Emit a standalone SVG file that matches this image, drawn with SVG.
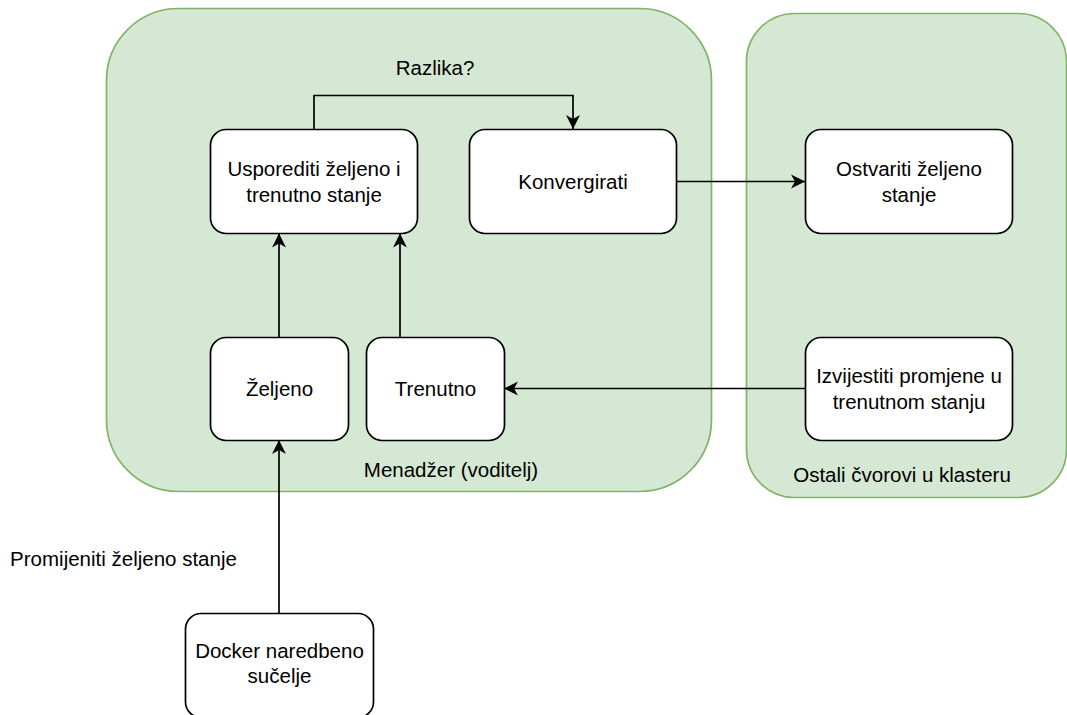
<svg xmlns="http://www.w3.org/2000/svg" width="1067" height="715" viewBox="0 0 1067 715">
  <style>
    .container { fill: #d5e8d4; stroke: #82b366; stroke-width: 1.7; }
    .box { fill: #ffffff; stroke: #000000; stroke-width: 1.7; }
    .edge { fill: none; stroke: #000000; stroke-width: 1.7; }
    text { font-family: "Liberation Sans", Helvetica, Arial, sans-serif; font-size: 20.5px; fill: #000000; text-anchor: middle; }
  </style>
  <defs>
    <marker id="arrow" markerUnits="userSpaceOnUse" viewBox="-15 -8 16 16" refX="0" refY="0" markerWidth="16" markerHeight="16" orient="auto">
      <path d="M0 0 L-14 -7 L-10 0 L-14 7 Z" fill="#000000"/>
    </marker>
  </defs>

  <g id="manager">
    <rect class="container" x="106.5" y="8.5" width="605" height="483" rx="72" ry="72"/>
    <text x="451" y="477">Menadžer (voditelj)</text>
  </g>
  <g id="others">
    <rect class="container" x="746.5" y="13.5" width="320" height="484" rx="48" ry="48"/>
    <text x="902" y="482">Ostali čvorovi u klasteru</text>
  </g>

  <g id="connectors">
    <path class="edge" d="M314 129 V95.5 H573 V129" marker-end="url(#arrow)"/>
    <path class="edge" d="M677 181.5 H805" marker-end="url(#arrow)"/>
    <path class="edge" d="M279 337 V233.5" marker-end="url(#arrow)"/>
    <path class="edge" d="M400 337 V233.5" marker-end="url(#arrow)"/>
    <path class="edge" d="M805 388.5 H504" marker-end="url(#arrow)"/>
    <path class="edge" d="M279 613 V440" marker-end="url(#arrow)"/>
    <text x="435" y="75">Razlika?</text>
    <text x="123.5" y="566">Promijeniti željeno stanje</text>
  </g>

  <g id="usporediti">
    <rect class="box" x="210.5" y="129.5" width="207" height="104" rx="15.5" ry="15.5"/>
    <text x="314" y="175.5">Usporediti željeno i</text>
    <text x="314" y="201.5">trenutno stanje</text>
  </g>
  <g id="konvergirati">
    <rect class="box" x="469.5" y="129.5" width="207" height="104" rx="15.5" ry="15.5"/>
    <text x="573" y="188.5">Konvergirati</text>
  </g>
  <g id="ostvariti">
    <rect class="box" x="805.5" y="129.5" width="207" height="104" rx="15.5" ry="15.5"/>
    <text x="909" y="175.5">Ostvariti željeno</text>
    <text x="909" y="201.5">stanje</text>
  </g>
  <g id="zeljeno">
    <rect class="box" x="210.5" y="337.5" width="138" height="103" rx="15.5" ry="15.5"/>
    <text x="279.5" y="395.5">Željeno</text>
  </g>
  <g id="trenutno">
    <rect class="box" x="366.5" y="337.5" width="138" height="103" rx="15.5" ry="15.5"/>
    <text x="435.5" y="395.5">Trenutno</text>
  </g>
  <g id="izvijestiti">
    <rect class="box" x="805.5" y="337.5" width="207" height="103" rx="15.5" ry="15.5"/>
    <text x="909" y="383">Izvijestiti promjene u</text>
    <text x="909" y="409">trenutnom stanju</text>
  </g>
  <g id="docker">
    <rect class="box" x="185.5" y="613.5" width="188" height="104" rx="15.5" ry="15.5"/>
    <text x="279.5" y="658">Docker naredbeno</text>
    <text x="279.5" y="683">sučelje</text>
  </g>
</svg>
